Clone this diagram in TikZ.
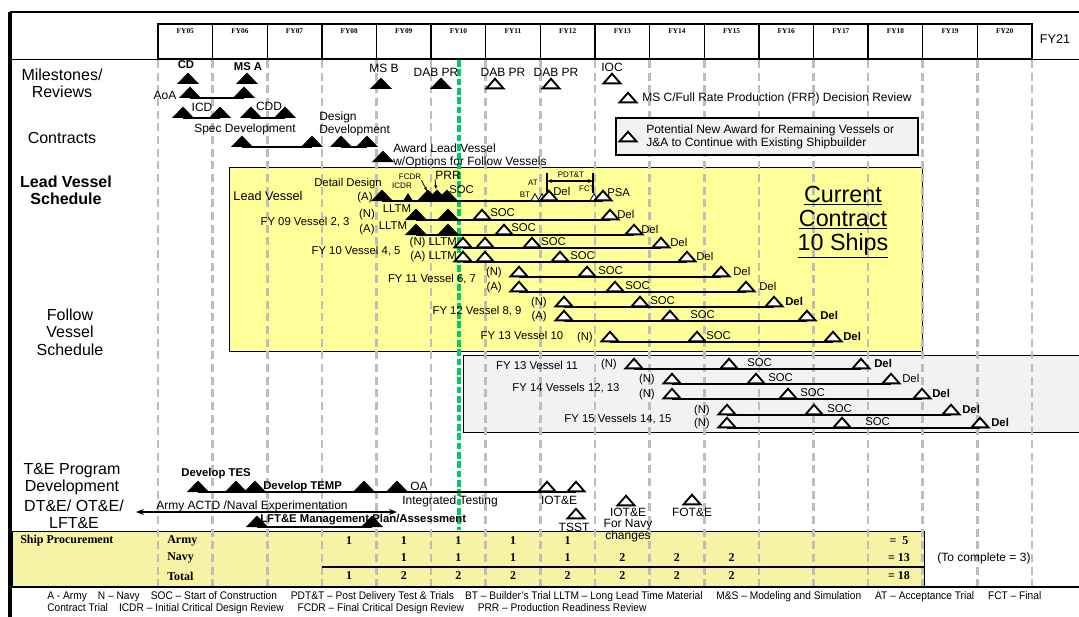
\documentclass[tikz,border=0pt]{standalone}
\usepackage{fontspec}
\setmainfont{Liberation Sans}
\newfontfamily\tabfont{Liberation Serif}
\newfontfamily\narrowfont{Liberation Sans}[FakeStretch=0.92]
\usetikzlibrary{arrows.meta}
\definecolor{leadyellow}{HTML}{FFFF99}
\definecolor{tabyellow}{HTML}{F7F3A6}
\definecolor{boxgray}{HTML}{F2F2F2}
\definecolor{gridgray}{HTML}{BDBDBD}
\definecolor{nowgreen}{HTML}{00CC66}
\newcommand{\spot}[3]{\coordinate (#1) at (#2,#3);}
\newcommand{\solid}[1]{\fill (#1) ++(-11,0) -- ++(11,-11.5) -- ++(11,11.5) -- cycle;}
\newcommand{\hollow}[1]{\filldraw[fill=white,line width=1.4pt] (#1) ++(-8.5,-0.6) -- ++(8.5,-9.6) -- ++(8.5,9.6) -- cycle;}
\newcommand{\weesolid}[1]{\fill (#1) ++(-5,0) -- ++(5,-8) -- ++(5,8) -- cycle;}
\newcommand{\wee}[1]{\filldraw[fill=white,line width=0.6pt] (#1) ++(-4,-0.3) -- ++(4,-7) -- ++(4,7) -- cycle;}
\newcommand{\link}[2]{\draw[line width=1.5pt] (#1) -- (#2);}
\newcommand{\shiprow}[9]{\spot{#1s}{#3}{#2}\spot{#1c}{#4}{#2}\spot{#1d}{#5}{#2}
  \link{#1s}{#1d}\hollow{#1s}\hollow{#1c}\hollow{#1d}
  \node[lbl,anchor=east] (#1tag) at (#3-17,#2-4) {#9};
  \node[lbl,anchor=west] (#1soc) at (#6,#2-6) {SOC};
  \node[#8,anchor=west] (#1del) at (#7,#2-6) {Del};}

\begin{document}
\begin{tikzpicture}[x=0.75pt,y=-0.75pt,
  txt/.style={font=\fontsize{9}{9.5}\selectfont,inner sep=0pt},
  txtb/.style={txt,font=\fontsize{8.5}{9.5}\selectfont\bfseries},
  lbl/.style={font=\fontsize{8.5}{9.5}\selectfont,inner sep=0pt},
  delb/.style={lbl,font=\fontsize{8.5}{9.5}\selectfont\bfseries},
  smallnote/.style={font=\fontsize{6}{7}\selectfont,inner sep=0pt},
  sect/.style={font=\fontsize{12}{13}\selectfont,align=center,inner sep=0pt},
  sectb/.style={sect,font=\fontsize{12}{13}\selectfont\bfseries},
  fyhead/.style={font=\tabfont\bfseries\fontsize{5.5}{6}\selectfont,inner sep=0pt},
  tab/.style={font=\tabfont\bfseries\fontsize{9}{10}\selectfont,inner sep=0pt},
  gridline/.style={gridgray,line width=2pt,dash pattern=on 6pt off 3.5pt},
  nowline/.style={nowgreen,line width=3pt,dash pattern=on 5pt off 2pt},
  foot/.style={font=\narrowfont\fontsize{8.3}{9}\selectfont,inner sep=0pt,anchor=west},
  big/.style={font=\fontsize{17.5}{17.8}\selectfont,align=center,inner sep=0pt}]
\useasboundingbox (0,0) rectangle (1079,617);
\fill[white] (0,0) rectangle (1079,617);
% boxes
\spot{leadNW}{229}{167}\spot{leadSE}{922}{351}
\draw[fill=leadyellow,line width=0.6pt] (leadNW) rectangle (leadSE);
\spot{follNW}{463}{355}\spot{follSE}{1082}{432}
\draw[fill=boxgray,line width=0.6pt] (follNW) rectangle (follSE);
\spot{tabNW}{12}{531}\spot{tabSE}{924}{586}
\draw[fill=tabyellow,line width=0.6pt] (tabNW) rectangle (tabSE);
% year grid
\foreach \i in {0,...,16} \draw[gridline] (158+54.625*\i,60) -- (158+54.625*\i,586);
\spot{nowTop}{459}{60}\spot{nowBot}{459}{530}
\draw[nowline] (nowTop) -- (nowBot);
% frame and header
\spot{frTL}{10}{12}\spot{frTR}{1079}{12}\spot{frBL}{10}{617}
\draw[line width=3pt] (frTL) -- (frBL);
\draw[line width=2pt] (frTL) -- (frTR);
\spot{hdL}{10}{59.5}\spot{hdR}{1079}{59.5}\draw[line width=1.2pt] (hdL) -- (hdR);
\spot{btL}{10}{587}\spot{btR}{1079}{587}\draw[line width=2pt] (btL) -- (btR);
\foreach \yr [count=\i from 0] in {05,06,07,08,09,10,11,12,13,14,15,16,17,18,19,20} {
  \draw[line width=1pt] (158+54.625*\i,24) -- (158+54.625*\i,59);
  \node[fyhead] (fy\yr) at (158+54.625*\i+27.3,31) {FY\yr};}
\spot{hbNW}{158}{24}\spot{hbSE}{1032}{59}
\draw[line width=1.6pt] (hbNW) rectangle (hbSE);
\node[font=\fontsize{9.5}{10}\selectfont,inner sep=0pt] (fy21) at (1055,39) {FY21};
% section titles
\node[sect] (milest) at (62,83) {Milestones/\\Reviews};
\node[sect] (contr) at (62,138) {Contracts};
\node[sectb] (leadsch) at (66,190) {Lead Vessel\\Schedule};
\node[sect] (follsch) at (70,332) {Follow\\Vessel\\Schedule};
\node[sect] (teprog) at (72,479) {T\&E Program\\Development};
\node[sect] (dtote) at (74,514) {DT\&E/ OT\&E/\\LFT\&E};
% milestones / reviews
\spot{cd}{188}{84}\solid{cd} \node[txtb] (cdt) at (186,65) {CD};
\spot{msa}{247}{84}\solid{msa} \node[txtb] (msat) at (248,67) {MS A};
\spot{aoaA}{190}{98}\spot{aoaB}{244}{98}\link{aoaA}{aoaB}\solid{aoaA}\solid{aoaB}
\node[txt] (aoat) at (165,95) {AoA};
\spot{icdA}{183}{118}\spot{icdB}{220}{118}\link{icdA}{icdB}\solid{icdA}\solid{icdB}
\node[txt] (icdt) at (202,107) {ICD};
\spot{cddA}{251}{118}\spot{cddB}{285}{118}\link{cddA}{cddB}\solid{cddA}\solid{cddB}
\node[txt] (cddt) at (269,106) {CDD};
\spot{msb}{381}{89}\solid{msb} \node[txt] (msbt) at (384,68) {MS B};
\spot{dabA}{441}{89}\solid{dabA} \node[txt] (dabAt) at (436,72) {DAB PR};
\spot{dabB}{495}{89}\hollow{dabB} \node[txt] (dabBt) at (503,72) {DAB PR};
\spot{dabC}{551}{89}\hollow{dabC} \node[txt] (dabCt) at (556,72) {DAB PR};
\spot{ioc}{612}{84}\hollow{ioc} \node[txt] (ioct) at (612,67) {IOC};
\spot{msc}{628}{103}\hollow{msc}
\node[txt,anchor=west] (msct) at (642,98) {MS C/Full Rate Production (FRP) Decision Review};
% contracts
\spot{specA}{242}{147}\spot{specB}{312}{147}\link{specA}{specB}\solid{specA}\solid{specB}
\node[txt] (spect) at (245,129) {Spec Development};
\spot{desA}{341}{147}\spot{desB}{367}{147}\link{desA}{desB}\solid{desA}\solid{desB}
\node[txt,anchor=west,align=left] (dest) at (319,124) {Design\\Development};
\spot{award}{383}{162}\solid{award}
\node[txt,anchor=west,align=left] (awardt) at (393,156) {Award Lead Vessel\\w/Options for Follow Vessels};
\spot{boxNW}{616}{118}\spot{boxSE}{918}{155}
\draw[fill=boxgray,line width=0.8pt] (boxNW) rectangle (boxSE);
\spot{newaward}{628}{142}\hollow{newaward}
\node[txt,anchor=west,align=left] (newawardt) at (646,137) {Potential New Award for Remaining Vessels or\\J\&A to Continue with Existing Shipbuilder};
% lead vessel
\node[font=\fontsize{9.5}{10}\selectfont,inner sep=0pt] (leadt) at (268,196) {Lead Vessel};
\node[lbl] (detdes) at (348,184) {Detail Design};
\node[lbl] (leadtag) at (365,198) {(A)};
\spot{ldA}{382}{201}\spot{ldIcdr}{408}{201}\spot{ldF}{428}{201}\spot{ldP}{437}{201}\spot{ldS}{447}{201}
\spot{ldBt}{535}{201}\spot{ldAt}{542}{201}\spot{ldDel}{549}{201}\spot{ldFct}{594}{201}\spot{ldPsa}{603}{201}
\link{ldA}{ldPsa}
\solid{ldA}\weesolid{ldIcdr}\solid{ldF}\solid{ldP}\solid{ldS}
\wee{ldBt}\wee{ldAt}\hollow{ldDel}\wee{ldFct}\hollow{ldPsa}
\node[smallnote] (icdrt) at (402,186) {ICDR};
\node[smallnote] (fcdrt) at (410,177) {FCDR};
\node[font=\fontsize{9}{10}\selectfont,inner sep=0pt] (prrt) at (448,175) {PRR};
\spot{fcdrTip}{427}{191}\spot{prrTip}{436}{189}
\draw[-{Stealth[length=3pt]},line width=0.6pt] (fcdrt.south east) -- (fcdrTip);
\draw[-{Stealth[length=3pt]},line width=0.6pt] (prrt.south west) -- (prrTip);
\node[lbl,anchor=west] (ldsoc) at (449,190) {SOC};
\node[smallnote] (att) at (533,183) {AT};
\node[smallnote] (btt) at (525,195) {BT};
\node[lbl,anchor=west] (lddel) at (553,191) {Del};
\node[smallnote] (fctt) at (587,189) {FCT};
\node[lbl,anchor=west] (psat) at (607,193) {PSA};
\spot{pdtA}{547}{173}\spot{pdtAb}{547}{192}\spot{pdtB}{593}{173}\spot{pdtBb}{593}{193}
\draw[line width=0.8pt] (pdtA) -- (pdtAb); \draw[line width=0.8pt] (pdtB) -- (pdtBb);
\spot{pdtL}{547}{181}\spot{pdtR}{593}{181}
\draw[{Stealth[length=4pt]}-{Stealth[length=4pt]},line width=0.8pt] (pdtL) -- (pdtR);
\node[smallnote] (pdtt) at (571,175) {PDT\&T};
% FY09 vessels 2, 3
\node[lbl] (fy09v) at (305,222) {FY 09 Vessel 2, 3};
\spot{n09s}{416}{220}\spot{n09l}{448}{220}\spot{n09c}{482}{220}\spot{n09d}{610}{220}
\link{n09s}{n09d}\solid{n09s}\solid{n09l}\hollow{n09c}\hollow{n09d}
\node[lbl] (n09tag) at (367,215) {(N)}; \node[lbl] (n09ll) at (397,209) {LLTM};
\node[lbl,anchor=west] (n09soc) at (490,213) {SOC}; \node[lbl,anchor=west] (n09del) at (617,214) {Del};
\spot{a09s}{416}{235}\spot{a09l}{448}{235}\spot{a09c}{504}{235}\spot{a09d}{634}{235}
\link{a09s}{a09d}\solid{a09s}\solid{a09l}\hollow{a09c}\hollow{a09d}
\node[lbl] (a09tag) at (367,230) {(A)}; \node[lbl] (a09ll) at (393,226) {LLTM};
\node[lbl,anchor=west] (a09soc) at (511,228) {SOC}; \node[lbl,anchor=west] (a09del) at (641,229) {Del};
% FY10 vessels 4, 5
\node[lbl] (fy10v) at (356,251) {FY 10 Vessel 4, 5};
\spot{n10s}{463}{248}\spot{n10l}{485}{248}\spot{n10c}{532}{248}\spot{n10d}{661}{248}
\link{n10s}{n10d}\hollow{n10s}\hollow{n10l}\hollow{n10c}\hollow{n10d}
\node[lbl,anchor=east] (n10tag) at (457,243) {(N) LLTM};
\node[lbl,anchor=west] (n10soc) at (541,242) {SOC}; \node[lbl,anchor=west] (n10del) at (670,242) {Del};
\spot{a10s}{463}{262}\spot{a10l}{485}{262}\spot{a10c}{560}{262}\spot{a10d}{687}{262}
\link{a10s}{a10d}\hollow{a10s}\hollow{a10l}\hollow{a10c}\hollow{a10d}
\node[lbl,anchor=east] (a10tag) at (457,257) {(A) LLTM};
\node[lbl,anchor=west] (a10soc) at (570,256) {SOC}; \node[lbl,anchor=west] (a10del) at (696,256) {Del};
% FY11 - FY15 vessels
\node[lbl] (fy11v) at (432,279) {FY 11 Vessel 6, 7};
\shiprow{n11}{277}{519}{587}{721}{598}{733}{lbl}{(N)}
\shiprow{a11}{292}{519}{615}{746}{625}{759}{lbl}{(A)}
\node[lbl] (fy12v) at (477,311) {FY 12 Vessel 8, 9};
\shiprow{n12}{307}{564}{640}{774}{650}{785}{delb}{(N)}
\shiprow{a12}{321}{564}{670}{807}{690}{820}{delb}{(A)}
\node[lbl] (fy13v) at (522,335) {FY 13 Vessel 10};
\shiprow{n13}{342}{610}{697}{833}{706}{843}{delb}{(N)}
\node[big] (contract) at (843,222) {\underline{Current}\\\underline{Contract}\\\underline{10 Ships}};
\node[lbl] (fy13w) at (537,365) {FY 13 Vessel 11};
\shiprow{v11}{369}{634}{729}{861}{747}{874}{delb}{(N)}
\node[lbl] (fy14v) at (566,388) {FY 14 Vessels 12, 13};
\shiprow{n14}{384}{672}{756}{891}{768}{902}{lbl}{(N)}
\shiprow{m14}{399}{672}{788}{922}{800}{932}{delb}{(N)}
\node[lbl] (fy15v) at (618,419) {FY 15 Vessels 14, 15};
\shiprow{n15}{415}{727}{814}{951}{827}{962}{delb}{(N)}
\shiprow{m15}{428}{727}{842}{980}{865}{991}{delb}{(N)}
% T&E
\spot{tesA}{198}{492}\spot{tesB}{236}{492}\spot{tesC}{255}{492}\spot{tesD}{364}{492}\spot{tesE}{397}{492}
\spot{iotA}{547}{492}\spot{iotB}{576}{492}
\link{tesA}{iotB}
\solid{tesA}\solid{tesB}\solid{tesC}\solid{tesD}\solid{tesE}\hollow{iotA}\hollow{iotB}
\node[txtb] (test) at (216,474) {Develop TES};
\node[txtb,anchor=west] (tempt) at (263,487) {Develop TEMP};
\node[txt] (oat) at (419,486) {OA};
\node[txt] (intt) at (450,501) {Integrated Testing};
\node[txt] (iott) at (559,500) {IOT\&E};
\spot{tsst}{576}{519}\hollow{tsst} \node[txt] (tsstt) at (574,527) {TSST};
\spot{iotnavy}{626}{506}\hollow{iotnavy}
\node[txt,align=center,font=\fontsize{9}{8.8}\selectfont] (iotnavyt) at (628,525) {IOT\&E\\For Navy\\changes};
\spot{fote}{692}{505}\hollow{fote} \node[txt] (fotet) at (692,512) {FOT\&E};
\spot{actdL}{136}{512}\spot{actdR}{397}{512}
\draw[{Stealth[length=6pt]}-{Stealth[length=6pt]},line width=1.2pt] (actdL) -- (actdR);
\node[txt] (actdt) at (252,506) {Army ACTD /Naval Experimentation};
\spot{lftA}{257}{527}\spot{lftB}{372}{527}\link{lftA}{lftB}\solid{lftA}\solid{lftB}
\node[txtb,anchor=west] (lftt) at (260,520) {LFT\&E Management Plan/Assessment};
% ship procurement table
\node[tab,anchor=west] (shipproc) at (20,541) {Ship Procurement};
\node[tab,anchor=west] (army) at (167,541) {Army};
\node[tab,anchor=west] (navy) at (167,558) {Navy};
\node[tab,anchor=west] (total) at (167,576) {Total};
\foreach \v [count=\k from 3] in {1,1,1,1,1} \node[tab] (army\k) at (158+54.625*\k+27.3,541) {\v};
\foreach \v [count=\k from 4] in {1,1,1,1,2,2,2} \node[tab] (navy\k) at (158+54.625*\k+27.3,558) {\v};
\foreach \v [count=\k from 3] in {1,2,2,2,2,2,2,2} \node[tab] (total\k) at (158+54.625*\k+27.3,576) {\v};
\node[tab] (armysum) at (899,541) {=\ \ 5};
\node[tab] (navysum) at (899,558) {= 13};
\node[tab] (totalsum) at (899,576) {= 18};
\spot{totL}{322}{567}\spot{totR}{924}{567}\draw[line width=1pt] (totL) -- (totR);
\node[txt] (tocomplete) at (984,558) {(To complete = 3)};
% legend
\node[foot] (foot1) at (47,597) {A - Army\quad N – Navy\quad SOC – Start of Construction\quad\ PDT\&T – Post Delivery Test \& Trials\quad BT – Builder’s Trial LLTM – Long Lead Time Material\quad\ M\&S – Modeling and Simulation\quad\ AT – Acceptance Trial\quad\ FCT – Final};
\node[foot] (foot2) at (47,609) {Contract Trial\quad ICDR – Initial Critical Design Review\quad\ FCDR – Final Critical Design Review\quad\ PRR – Production Readiness Review};
\end{tikzpicture}
\end{document}
